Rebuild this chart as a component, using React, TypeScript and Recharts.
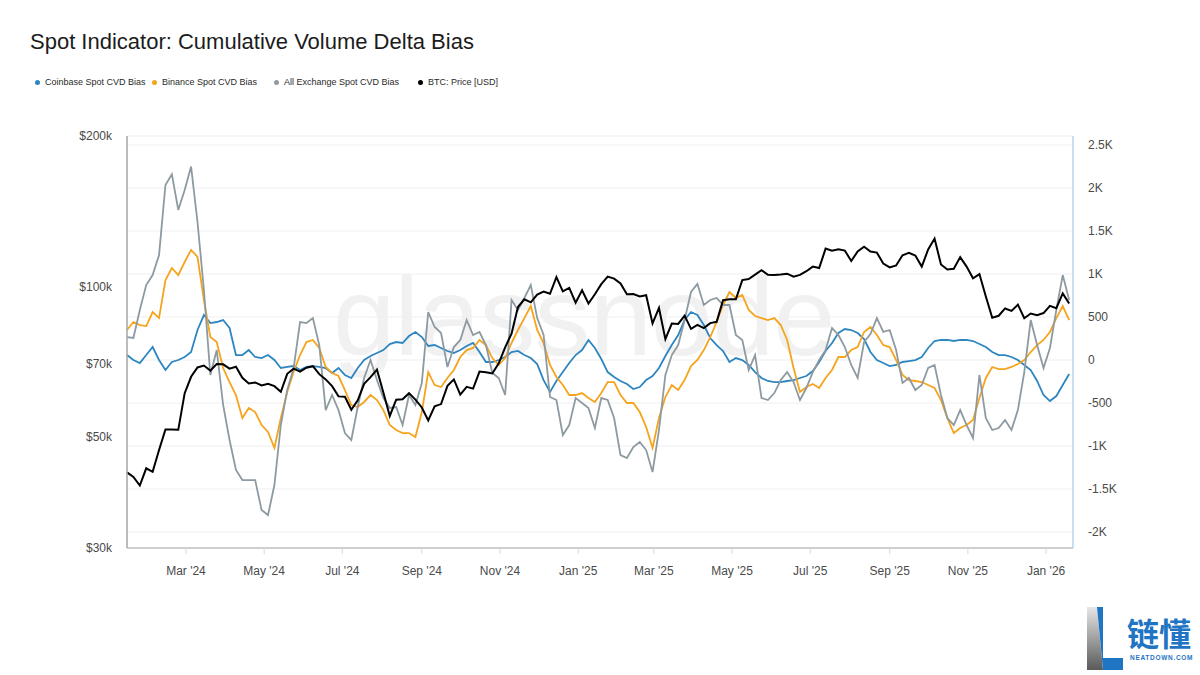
import { LineChart, Line, XAxis, YAxis, CartesianGrid } from "recharts";

// sampling grid: one point every 5 days from 15 Jan 2024
const START = Date.UTC(2024, 0, 15);
const END = Date.UTC(2026, 0, 22);
const STEP = 5 * 86400000;

const coinbaseBias = [
  58, 0, -35, 58, 151, 0, -116, -23, 0, 35,
  93, 349, 523, 430, 442, 465, 372, 58, 58, 116,
  35, 23, 58, 0, -93, -81, -70, -116, -81, -70,
  -81, -93, -151, -93, -174, -209, -93, 0, 47, 81,
  116, 186, 209, 198, 279, 326, 267, 163, 174, 140,
  105, 81, 116, 163, 198, 93, -23, -23, 0, 35,
  93, 105, 58, 23, -47, -233, -372, -244, -140, -35,
  58, 116, 233, 140, 12, -140, -198, -244, -279, -337,
  -314, -233, -186, -93, 47, 174, 291, 465, 558, 523,
  407, 256, 174, 105, -23, 23, 0, -58, -140, -209,
  -244, -256, -256, -244, -233, -209, -186, -128, -23, 105,
  198, 314, 360, 349, 314, 244, 93, 0, -35, -70,
  -58, -23, -12, 0, 35, 140, 221, 233, 233, 221,
  233, 233, 221, 186, 151, 93, 58, 58, 35, 0,
  -58, -116, -244, -407, -477, -419, -291, -163,
];

const binanceBias = [
  349, 442, 407, 395, 558, 488, 930, 1070, 988, 1140,
  1280, 1200, 698, 267, 209, -93, -256, -407, -675, -558,
  -605, -756, -837, -1023, -675, -372, -140, 58, 209, 233,
  140, -81, -151, -186, -349, -523, -547, -488, -407, -465,
  -582, -756, -814, -849, -849, -896, -605, -140, -291, -314,
  -209, -116, 35, 116, 140, 233, 174, 23, -58, 23,
  198, 349, 488, 628, 349, 198, -58, -198, -291, -407,
  -407, -384, -442, -488, -384, -256, -256, -407, -500, -500,
  -605, -779, -1023, -675, -430, -291, -349, -233, -70, 0,
  116, 267, 442, 640, 791, 721, 756, 582, 512, 488,
  465, 488, 407, 233, -93, -372, -314, -279, -326, -209,
  -116, 35, 35, 116, 151, 326, 384, 291, 174, 151,
  0, -174, -233, -244, -256, -291, -326, -465, -675, -849,
  -791, -756, -698, -442, -209, -81, -105, -105, -81, -47,
  0, 93, 174, 233, 326, 488, 628, 465,
];

const allExchangeBias = [
  267, 256, 582, 872, 988, 1221, 2035, 2160, 1745, 1977,
  2250, 1605, 814, -174, 116, -523, -930, -1279, -1396, -1396,
  -1396, -1745, -1803, -1454, -756, -349, -93, 442, 430, 488,
  174, -582, -407, -582, -849, -930, -547, -209, 0, -233,
  -442, -558, -547, -756, -407, -523, -267, 558, 384, 314,
  -81, 151, 233, 465, 291, 326, 174, -151, -209, -407,
  698, 582, 721, 872, 488, 291, -430, -465, -872, -756,
  -442, -500, -558, -791, -442, -465, -675, -1105, -1140, -1012,
  -954, -1047, -1303, -814, -174, 58, 174, 465, 791, 884,
  640, 698, 721, 640, 640, 291, 233, -116, 58, -442,
  -465, -384, -233, -140, -256, -465, -326, -140, 0, 116,
  372, 291, 151, -58, -209, 209, 302, 488, 326, 349,
  116, -267, -209, -349, -291, -93, -58, -407, -675, -756,
  -582, -756, -907, -174, -675, -814, -791, -698, -814, -582,
  -140, 465, 174, -93, 140, 582, 988, 698,
];

const btcPrice = [
  42500, 41600, 40000, 43300, 42600, 47100, 51800, 51800, 51700, 61200,
  66000, 68900, 69500, 67900, 70000, 69900, 68500, 69100, 65700, 64000,
  64300, 63400, 63900, 63200, 61600, 66900, 68500, 67600, 68800, 69300,
  66800, 65200, 63200, 60300, 60200, 56700, 59200, 63900, 65900, 68200,
  61400, 55100, 59400, 59500, 61200, 59400, 57300, 54000, 57600, 58200,
  63300, 65200, 60800, 63000, 62500, 67600, 67400, 67000, 70200, 75600,
  80500, 91000, 94300, 93000, 96400, 97700, 96700, 104400, 97800, 99400,
  92800, 98300, 92500, 96500, 101100, 104700, 103700, 101400, 96500, 96600,
  95500, 96100, 84400, 90600, 78500, 84300, 84200, 87500, 82300, 83800,
  82600, 84500, 85000, 93900, 94300, 94300, 103000, 103500, 105600, 107800,
  105600, 105400, 105700, 106100, 104600, 105500, 107300, 109600, 108900, 119100,
  117900, 118700, 118000, 112500, 117500, 120100, 117500, 116900, 111200, 109200,
  110200, 115500, 116800, 115300, 109600, 118600, 124700, 110700, 108200, 108500,
  114500, 109600, 103900, 105900, 95500, 86600, 87400, 90400, 89400, 92000,
  86400, 88300, 87600, 88500, 91500, 90500, 96900, 92500,
];

const monthTicks = [
  "2024-03-01", "2024-05-01", "2024-07-01", "2024-09-01", "2024-11-01", "2025-01-01",
  "2025-03-01", "2025-05-01", "2025-07-01", "2025-09-01", "2025-11-01", "2026-01-01",
];
const monthLabels = [
  "Mar '24", "May '24", "Jul '24", "Sep '24", "Nov '24", "Jan '25",
  "Mar '25", "May '25", "Jul '25", "Sep '25", "Nov '25", "Jan '26",
];
const priceTicks = [30000, 50000, 70000, 100000, 200000];
const biasTicks = [-2000, -1500, -1000, -500, 0, 500, 1000, 1500, 2000, 2500];

const legendItems = [
  { name: "Coinbase Spot CVD Bias", color: "#2e86c1", left: 35 },
  { name: "Binance Spot CVD Bias", color: "#f5a41c", left: 152 },
  { name: "All Exchange Spot CVD Bias", color: "#8e9aa1", left: 274 },
  { name: "BTC: Price [USD]", color: "#000000", left: 418 },
];

const rows = btcPrice.map((p, i) => ({
  t: START + i * STEP,
  coinbase: coinbaseBias[i],
  binance: binanceBias[i],
  all: allExchangeBias[i],
  price: p,
}));

const tickTimes = monthTicks.map((d) => Date.parse(d));
const labelFor = (t: number) => monthLabels[tickTimes.indexOf(t)] ?? "";

const fmtPrice = (v: number) => `$${v / 1000}k`;
const fmtBias = (v: number) => (Math.abs(v) >= 1000 ? `${v / 1000}K` : `${v}`);

const FONT = "'Liberation Sans', Arial, Helvetica, sans-serif";

export default function App() {
  return (
    <div
      style={{
        position: "absolute",
        left: 0,
        top: 0,
        width: 1200,
        height: 675,
        background: "#fff",
        fontFamily: FONT,
        overflow: "hidden",
      }}
    >
      <div style={{ position: "absolute", left: 30, top: 29, fontSize: 22, color: "#1c1c1c", lineHeight: "26px" }}>
        Spot Indicator: Cumulative Volume Delta Bias
      </div>

      {legendItems.map((it) => (
        <div
          key={it.name}
          style={{
            position: "absolute",
            left: it.left,
            top: 76,
            height: 12,
            display: "flex",
            alignItems: "center",
            fontSize: 9,
            color: "#2a2a2a",
            whiteSpace: "nowrap",
          }}
        >
          <span style={{ width: 5, height: 5, borderRadius: 3, background: it.color, marginRight: 5 }} />
          {it.name}
        </div>
      ))}

      {/* watermark */}
      <div
        style={{
          position: "absolute",
          left: 333,
          top: 252,
          fontSize: 112,
          lineHeight: "130px",
          color: "#f1f1f1",
          fontWeight: 500,
          letterSpacing: -1,
        }}
      >
        glassnode
      </div>

      <div style={{ position: "absolute", left: 0, top: 0 }}>
        <LineChart width={1200} height={675} data={rows} margin={{ top: 136, right: 67, bottom: 97, left: 67 }}>
          <CartesianGrid yAxisId="right" vertical={false} stroke="#efefef" />
          <XAxis
            dataKey="t"
            type="number"
            scale="time"
            domain={[START, END]}
            ticks={tickTimes}
            tickFormatter={labelFor}
            interval={0}
            height={30}
            axisLine={{ stroke: "#cfcfcf", strokeWidth: 2 }}
            tickLine={{ stroke: "#d8d8d8" }}
            tickSize={6}
            tickMargin={12}
            tick={{ fill: "#4a4a4a", fontSize: 12 }}
          />
          <YAxis
            yAxisId="left"
            orientation="left"
            scale="log"
            domain={[30000, 200000]}
            allowDataOverflow
            ticks={priceTicks}
            tickFormatter={fmtPrice}
            interval={0}
            width={60}
            axisLine={{ stroke: "#a6a6a6", strokeWidth: 1.5 }}
            tickLine={false}
            tickSize={0}
            tickMargin={15}
            tick={{ fill: "#4a4a4a", fontSize: 12 }}
          />
          <YAxis
            yAxisId="right"
            orientation="right"
            domain={[-2186, 2605]}
            allowDataOverflow
            ticks={biasTicks}
            tickFormatter={fmtBias}
            interval={0}
            width={60}
            axisLine={{ stroke: "#b7d3e8", strokeWidth: 1.5 }}
            tickLine={false}
            tickSize={0}
            tickMargin={15}
            tick={{ fill: "#4a4a4a", fontSize: 12 }}
          />
          <Line yAxisId="right" dataKey="coinbase" stroke="#2e86c1" strokeWidth={1.8} dot={false} isAnimationActive={false} />
          <Line yAxisId="right" dataKey="binance" stroke="#f5a41c" strokeWidth={1.8} dot={false} isAnimationActive={false} />
          <Line yAxisId="right" dataKey="all" stroke="#8e9aa1" strokeWidth={1.8} dot={false} isAnimationActive={false} />
          <Line yAxisId="left" dataKey="price" stroke="#000" strokeWidth={2} dot={false} isAnimationActive={false} />
        </LineChart>
      </div>

      {/* brand mark */}
      <svg style={{ position: "absolute", left: 1084, top: 604 }} width={40} height={70}>
        <defs>
          <linearGradient id="lgGray" x1="0" y1="0" x2="0" y2="1">
            <stop offset="0%" stopColor="#e6e6e6" />
            <stop offset="100%" stopColor="#5a5a5a" />
          </linearGradient>
        </defs>
        <polygon points="3,3 13,3 19,66 3,66" fill="url(#lgGray)" />
        <polygon points="13,3 19,3 19,54 39,54 39,66 19,66" fill="#1f74c4" />
      </svg>
      <div
        style={{
          position: "absolute",
          left: 1127,
          top: 612,
          fontSize: 32,
          fontWeight: 700,
          color: "#1f74c4",
          fontFamily: "'Noto Sans CJK SC', sans-serif",
          lineHeight: "40px",
        }}
      >
        链懂
      </div>
      <div
        style={{
          position: "absolute",
          left: 1130,
          top: 654,
          fontSize: 6.5,
          fontWeight: 700,
          color: "#1f74c4",
          letterSpacing: 0.7,
          whiteSpace: "nowrap",
        }}
      >
        NEATDOWN.COM
      </div>
    </div>
  );
}
